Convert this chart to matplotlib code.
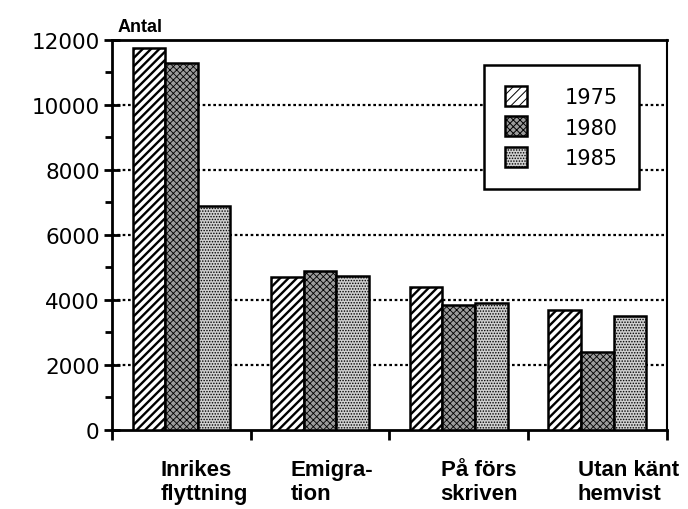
import numpy as np
import matplotlib.pyplot as plt
import matplotlib.transforms as mtransforms

plt.rcParams['hatch.color'] = 'black'

# data
kategorier = ['Inrikes\nflyttning', 'Emigra-\ntion', 'På förs\nskriven', 'Utan känt\nhemvist']
ar = ['1975', '1980', '1985']
v1975 = [11750, 4700, 4400, 3700]
v1980 = [11300, 4900, 3850, 2400]
v1985 = [6900, 4750, 3900, 3500]

fig = plt.figure(figsize=(6.88, 5.10), dpi=100)
ax = fig.add_axes([0.163, 0.155, 0.806, 0.765])

x = np.arange(len(kategorier)) + 0.5
w = 0.235
# (facecolor, hatch, hatch linewidth)
stilar = [('white', '////', 1.7), ('#9c9c9c', 'xxxxx', 0.6), ('#cfcfcf', '......', 0.7)]
serier = [v1975, v1980, v1985]
for i, vals in enumerate(serier):
    fc, h, hlw = stilar[i]
    plt.rcParams['hatch.linewidth'] = hlw
    ax.bar(x + (i - 1) * w, vals, w, facecolor=fc, hatch=h, edgecolor='black',
           linewidth=1.8, label=ar[i], zorder=3)

ax.set_xlim(0, 4)
ax.set_ylim(0, 12000)

# y-axel
ax.set_yticks(np.arange(0, 12001, 2000))
ax.set_yticks(np.arange(1000, 12000, 2000), minor=True)
ax.tick_params(axis='y', which='major', direction='inout', length=12, width=2, labelsize=15.5, pad=3)
ax.tick_params(axis='y', which='minor', direction='out', length=5, width=2)

# x-axel: streck vid gruppgränserna
ax.set_xticks([0, 1, 2, 3, 4])
ax.set_xticklabels([])
ax.tick_params(axis='x', direction='out', length=7, width=2)

for s in ax.spines.values():
    s.set_linewidth(2)
ax.spines['right'].set_linewidth(1.5)

for yv in range(2000, 12000, 2000):
    ax.axhline(yv, color='black', linestyle=(0, (1.2, 1.2)), linewidth=1.6, zorder=1)

# kategorietiketter
trans = mtransforms.blended_transform_factory(ax.transData, ax.transAxes)
offs = [0.35, 0.29, 0.37, 0.36]
for i, lab in enumerate(kategorier):
    ax.text(i + offs[i], -0.075, lab, transform=trans, ha='left', va='top',
            fontsize=16, fontweight='bold', family='Liberation Sans',
            linespacing=1.15)

ax.text(0.01, 1.012, 'Antal', transform=ax.transAxes, ha='left', va='bottom',
        fontsize=13, fontweight='bold', family='Liberation Sans')

leg = ax.legend(loc='upper left', bbox_to_anchor=(0.670, 0.935), fontsize=15,
                frameon=True, fancybox=False, edgecolor='black', framealpha=1,
                handlelength=1.1, handleheight=1.1, handletextpad=1.8,
                borderpad=1.0, labelspacing=0.45, borderaxespad=0)
leg.get_frame().set_linewidth(1.8)
leg.set_zorder(5)

fig.savefig('out.png', dpi=100)
